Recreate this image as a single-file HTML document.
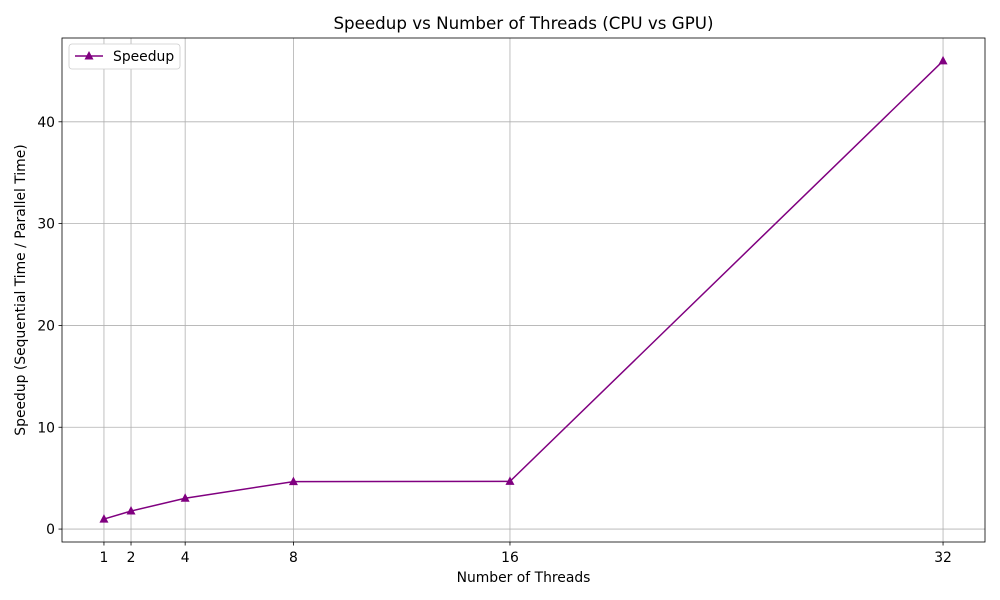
<!DOCTYPE html>
<html><head><meta charset="utf-8"><style>
body{margin:0;background:#fff;}
svg{display:block;font-family:"DejaVu Sans","Liberation Sans",sans-serif;}
</style></head><body>
<svg id="chart" width="1000" height="600"></svg>
<script>
const threads=[1,2,4,8,16,32];
const speedup=[0.98,1.77,3.03,4.66,4.68,45.98];
const xTicks=[1,2,4,8,16,32];
const yTicks=[0,10,20,30,40];
const L=62,R=985,T=38,B=542;
const xmin=-0.55,xmax=33.55,ymin=-1.27,ymax=48.23;
const xs=v=>L+(v-xmin)/(xmax-xmin)*(R-L);
const ys=v=>B-(v-ymin)/(ymax-ymin)*(B-T);
const svg=document.getElementById('chart');
const NS='http://www.w3.org/2000/svg';
function mk(tag,attrs,parent){const e=document.createElementNS(NS,tag);for(const k in attrs)e.setAttribute(k,attrs[k]);(parent||svg).appendChild(e);return e;}
const grid=mk('g',{});


xTicks.forEach(t=>{const x=xs(t);
mk('line',{x1:x,x2:x,y1:T,y2:B,stroke:'#b0b0b0','stroke-width':0.8},grid);
mk('line',{x1:x,x2:x,y1:B,y2:B+3.5,stroke:'#000','stroke-width':0.8});
const tx=mk('text',{x:x,y:B+20,'text-anchor':'middle','font-size':13.9});tx.textContent=t;

});
yTicks.forEach(t=>{const y=ys(t);
mk('line',{x1:L,x2:R,y1:y,y2:y,stroke:'#b0b0b0','stroke-width':0.8},grid);
mk('line',{x1:L-3.5,x2:L,y1:y,y2:y,stroke:'#000','stroke-width':0.8});
const tx=mk('text',{x:L-7,y:y+5,'text-anchor':'end','font-size':13.9});tx.textContent=t;

});
const line=mk('polyline',{points:threads.map((t,i)=>xs(t)+','+ys(speedup[i])).join(' '),fill:'none',stroke:'#800080','stroke-width':1.5});


threads.forEach((t,i)=>{const x=xs(t),y=ys(speedup[i]);
const m=mk('polygon',{points:`${x},${y-5} ${x-4.5},${y+3.5} ${x+4.5},${y+3.5}`,fill:'#800080'});

});
const frame=mk('rect',{x:L,y:T,width:R-L,height:B-T,fill:'none',stroke:'#000','stroke-width':0.8});


const title=mk('text',{x:(L+R)/2,y:29,'text-anchor':'middle','font-size':16.7});title.textContent='Speedup vs Number of Threads (CPU vs GPU)';


const xl=mk('text',{x:(L+R)/2,y:582,'text-anchor':'middle','font-size':13.9});xl.textContent='Number of Threads';


const yl=mk('text',{x:0,y:0,'text-anchor':'middle','font-size':13.9,transform:`translate(25,${(T+B)/2}) rotate(-90)`});yl.textContent='Speedup (Sequential Time / Parallel Time)';


const lg=mk('g',{});


mk('rect',{x:69,y:44,width:111,height:25,rx:3,fill:'#fff',stroke:'#ccc','stroke-width':0.8},lg);
mk('line',{x1:75,x2:103,y1:56,y2:56,stroke:'#800080','stroke-width':1.5},lg);
mk('polygon',{points:'89,51 84.5,59.5 93.5,59.5',fill:'#800080'},lg);
const lt=mk('text',{x:113,y:61,'font-size':13.9},lg);lt.textContent='Speedup';


</script>
</body></html>
